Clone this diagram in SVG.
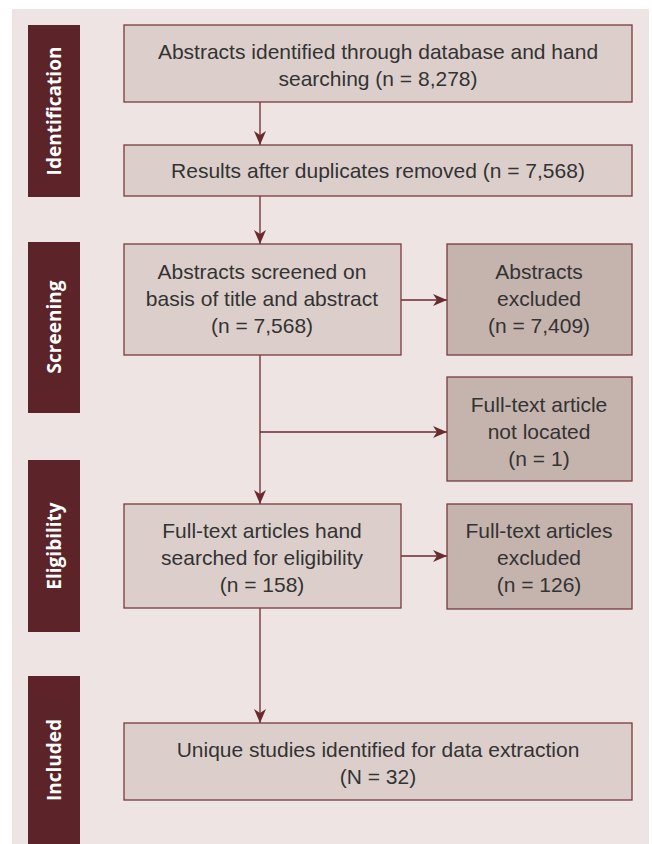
<svg xmlns="http://www.w3.org/2000/svg" width="652" height="844" viewBox="0 0 652 844">
<style>
.bg{fill:#ede4e3}
.side{fill:#5c2428}
.sidet{fill:#ffffff;font-family:"Open Sans","Liberation Sans",sans-serif;font-weight:bold;font-size:19px;text-anchor:middle}
.box{fill:#dccfcb;stroke:#7a3a3e;stroke-width:1.3}
.dbox{fill:#c5b3ae;stroke:#7a3a3e;stroke-width:1.3}
.t{fill:#333333;font-family:"Liberation Sans",Arial,sans-serif;font-size:21px;text-anchor:middle}
.c{fill:none;stroke:#6b2a2e;stroke-width:1.3}
</style>
<defs>
<marker id="ah" viewBox="0 0 14 12" markerWidth="14" markerHeight="12" refX="14" refY="6" orient="auto" markerUnits="userSpaceOnUse">
<path d="M0,0 L14,6 L0,12 L4,6 z" fill="#6b2a2e"/>
</marker>
</defs>
<rect width="652" height="844" fill="#ffffff"/>
<rect class="bg" x="12" y="9" width="637" height="835"/>
<g id="phase-identification"><rect class="side" x="28" y="25" width="52" height="172"/><text class="sidet" transform="translate(61,111) rotate(-90)">Identification</text></g>
<g id="phase-screening"><rect class="side" x="28" y="242" width="52" height="171"/><text class="sidet" transform="translate(61,327) rotate(-90)">Screening</text></g>
<g id="phase-eligibility"><rect class="side" x="28" y="460" width="52" height="172"/><text class="sidet" transform="translate(61,546) rotate(-90)">Eligibility</text></g>
<g id="phase-included"><rect class="side" x="28" y="676" width="52" height="168"/><text class="sidet" transform="translate(61,760) rotate(-90)">Included</text></g>
<g id="connectors">
<line class="c" x1="260" y1="102" x2="260" y2="145" marker-end="url(#ah)"/>
<line class="c" x1="260" y1="196" x2="260" y2="244" marker-end="url(#ah)"/>
<line class="c" x1="401" y1="300" x2="447" y2="300" marker-end="url(#ah)"/>
<line class="c" x1="260" y1="355" x2="260" y2="504" marker-end="url(#ah)"/>
<line class="c" x1="260" y1="432" x2="447" y2="432" marker-end="url(#ah)"/>
<line class="c" x1="401" y1="556" x2="447" y2="556" marker-end="url(#ah)"/>
<line class="c" x1="260" y1="608" x2="260" y2="723" marker-end="url(#ah)"/>
</g>
<g id="n1"><rect class="box" x="124" y="25" width="508" height="77"/><text class="t" x="378" y="59">Abstracts identified through database and hand</text><text class="t" x="378" y="86">searching (n = 8,278)</text></g>
<g id="n2"><rect class="box" x="124" y="145" width="508" height="51"/><text class="t" x="378" y="178">Results after duplicates removed (n = 7,568)</text></g>
<g id="n3"><rect class="box" x="124" y="244" width="277" height="111"/><text class="t" x="262" y="279">Abstracts screened on</text><text class="t" x="262" y="306">basis of title and abstract</text><text class="t" x="262" y="333">(n = 7,568)</text></g>
<g id="n4"><rect class="dbox" x="447" y="244" width="185" height="111"/><text class="t" x="539" y="279">Abstracts</text><text class="t" x="539" y="306">excluded</text><text class="t" x="539" y="333">(n = 7,409)</text></g>
<g id="n5"><rect class="dbox" x="447" y="377" width="185" height="104"/><text class="t" x="539" y="412">Full-text article</text><text class="t" x="539" y="439">not located</text><text class="t" x="539" y="466">(n = 1)</text></g>
<g id="n6"><rect class="box" x="124" y="504" width="277" height="104"/><text class="t" x="262" y="538">Full-text articles hand</text><text class="t" x="262" y="565">searched for eligibility</text><text class="t" x="262" y="592">(n = 158)</text></g>
<g id="n7"><rect class="dbox" x="447" y="504" width="185" height="105"/><text class="t" x="539" y="538">Full-text articles</text><text class="t" x="539" y="565">excluded</text><text class="t" x="539" y="592">(n = 126)</text></g>
<g id="n8"><rect class="box" x="124" y="723" width="508" height="77"/><text class="t" x="378" y="757">Unique studies identified for data extraction</text><text class="t" x="378" y="784">(N = 32)</text></g>
</svg>
